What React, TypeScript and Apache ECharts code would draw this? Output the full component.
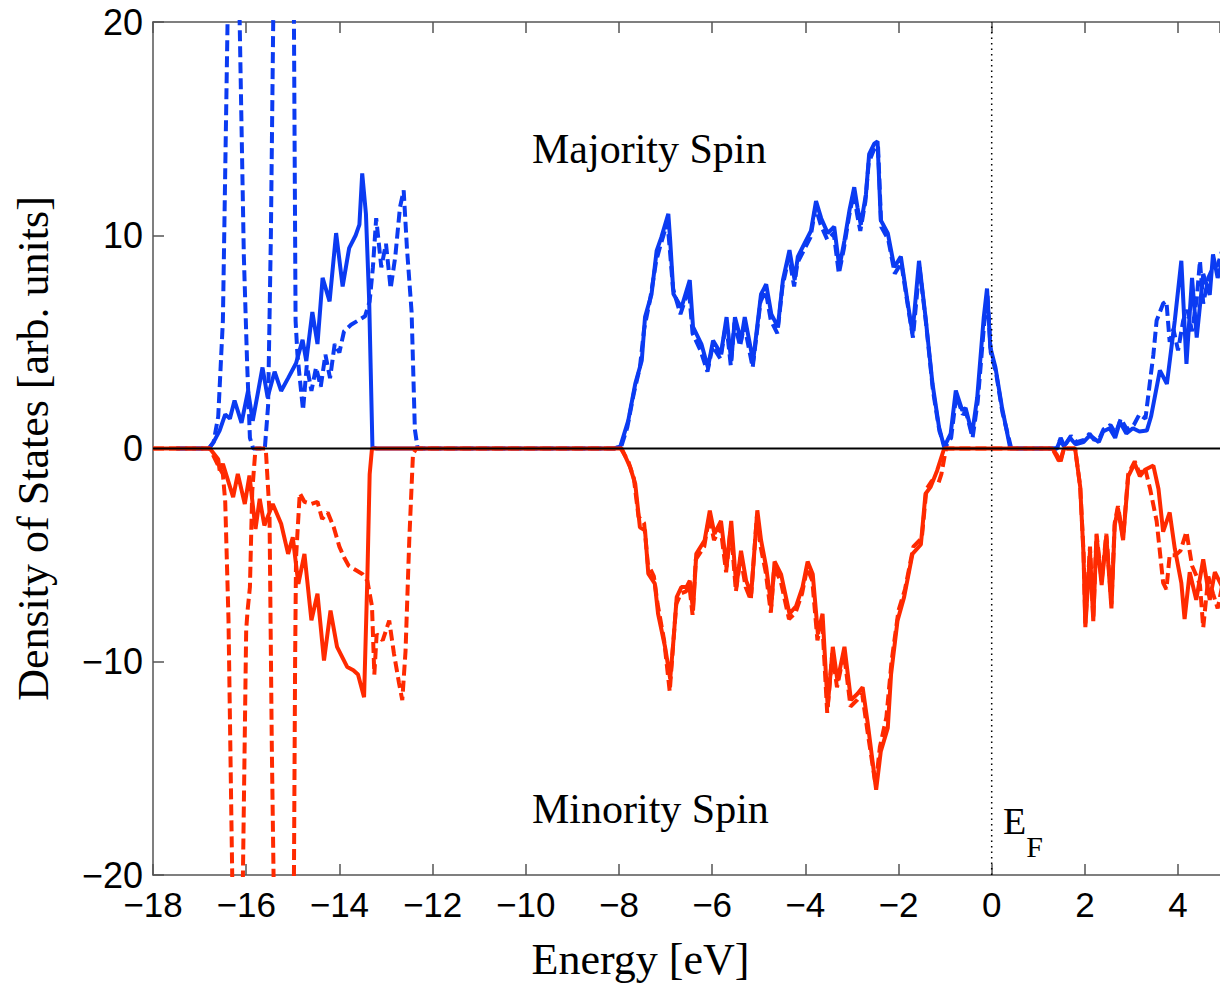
import React, { useEffect, useRef } from "react";
import * as echarts from "echarts";

const xTicks = { min: -18, max: 4.9, interval: 2 };
const yTicks = { min: -20, max: 20, interval: 10 };

const majoritySolid: [number, number][] = [
  [-17.5, 0], [-16.8, 0], [-16.7, 0.3], [-16.57, 0.84], [-16.45, 1.6], [-16.35, 1.4], [-16.25, 2.25], [-16.1, 1.2],
  [-15.96, 2.7], [-15.86, 1.3], [-15.75, 2.6], [-15.65, 3.8], [-15.54, 2.4], [-15.39, 3.6], [-15.25, 2.7], [-15.1, 3.3],
  [-14.93, 4.0], [-14.79, 5.1], [-14.71, 4.1], [-14.58, 6.4], [-14.47, 4.9], [-14.36, 8.0], [-14.21, 6.9], [-14.07, 10.1],
  [-13.93, 7.6], [-13.79, 9.4], [-13.65, 10.0], [-13.57, 10.5], [-13.51, 12.9], [-13.43, 11.0], [-13.36, 6.9], [-13.29, 0.05],
  [-13.2, 0], [-8.1, 0], [-7.97, 0.1], [-7.8, 1.31], [-7.65, 3.03], [-7.51, 4.13], [-7.44, 6.16], [-7.3, 7.24], [-7.19, 9.28],
  [-7.09, 9.9], [-6.94, 11.0], [-6.9, 9.75], [-6.83, 7.24], [-6.66, 6.6], [-6.48, 7.9], [-6.41, 5.7], [-6.23, 4.9], [-6.09, 3.8],
  [-5.98, 5.06], [-5.81, 4.44], [-5.69, 6.16], [-5.59, 4.1], [-5.51, 6.16], [-5.38, 5.06], [-5.3, 6.16], [-5.12, 4.1],
  [-4.95, 7.24], [-4.84, 7.7], [-4.73, 6.3], [-4.59, 5.7], [-4.48, 7.9], [-4.34, 9.3], [-4.23, 7.9], [-4.16, 9.0], [-4.02, 9.6],
  [-3.88, 10.2], [-3.77, 11.6], [-3.66, 10.8], [-3.52, 10.1], [-3.38, 10.4], [-3.27, 8.5], [-3.16, 9.75], [-3.05, 11.2],
  [-2.95, 12.25], [-2.88, 11.3], [-2.81, 10.5], [-2.7, 11.9], [-2.63, 13.8], [-2.52, 14.3], [-2.45, 14.4], [-2.38, 10.7],
  [-2.23, 10.1], [-2.09, 8.5], [-1.95, 9.0], [-1.81, 6.94], [-1.7, 5.4], [-1.56, 8.8], [-1.42, 6.16], [-1.27, 3.03],
  [-1.13, 1.0], [-1.02, 0.06], [-0.88, 0.7], [-0.77, 2.72], [-0.63, 1.78], [-0.56, 1.9], [-0.42, 0.69], [-0.31, 2.4],
  [-0.17, 6.16], [-0.1, 7.5], [-0.03, 4.75], [0.08, 3.81], [0.22, 1.94], [0.4, 0], [1.4, 0], [1.47, 0.4], [1.55, 0.1],
  [1.68, 0.5], [1.8, 0.2], [1.97, 0.3], [2.1, 0.6], [2.18, 0.5], [2.3, 0.3], [2.39, 0.8], [2.53, 0.95], [2.65, 0.5],
  [2.75, 1.25], [2.89, 0.7], [3.03, 0.95], [3.17, 0.8], [3.33, 0.84], [3.42, 1.5], [3.61, 3.66], [3.76, 3.03], [3.93, 6.0],
  [4.07, 8.8], [4.18, 3.97], [4.3, 8.0], [4.4, 5.2], [4.54, 8.19], [4.68, 7.2], [4.75, 9.1], [4.85, 8.0], [4.95, 8.8],
];

const majorityDashed: [number, number][] = [
  [-17.5, 0], [-16.8, 0], [-16.7, 0.3], [-16.6, 1.5], [-16.5, 6], [-16.4, 20], [-16.27, 36], [-16.14, 20], [-16.05, 9],
  [-15.98, 4], [-15.92, 0.5], [-15.85, 0], [-15.6, 0], [-15.53, 2], [-15.47, 10], [-15.41, 22], [-15.2, 38], [-14.98, 22],
  [-14.94, 6], [-14.9, 4.4], [-14.85, 3.3], [-14.78, 1.8], [-14.7, 3.9], [-14.6, 2.7], [-14.5, 3.8], [-14.4, 2.9],
  [-14.3, 4.4], [-14.2, 3.3], [-14.1, 4.9], [-14.0, 4.5], [-13.9, 5.5], [-13.75, 5.8], [-13.6, 6.0], [-13.45, 6.2],
  [-13.35, 6.9], [-13.28, 8.5], [-13.21, 10.8], [-13.1, 8.5], [-13.0, 9.6], [-12.9, 7.5], [-12.8, 9.0], [-12.7, 11.3],
  [-12.62, 12.1], [-12.55, 9.4], [-12.45, 6.4], [-12.38, 0.9], [-12.32, 0], [-8.1, 0], [-7.95, 0.1], [-7.82, 1.0],
  [-7.68, 2.6], [-7.55, 3.8], [-7.46, 5.6], [-7.33, 7.0], [-7.2, 8.8], [-7.1, 9.6], [-6.96, 10.6], [-6.91, 9.4],
  [-6.84, 7.5], [-6.68, 6.3], [-6.5, 7.5], [-6.42, 5.4], [-6.25, 4.6], [-6.1, 3.6], [-5.99, 4.8], [-5.82, 4.2],
  [-5.7, 5.9], [-5.6, 3.9], [-5.52, 5.9], [-5.4, 4.8], [-5.31, 5.8], [-5.13, 3.8], [-4.96, 6.9], [-4.85, 7.4],
  [-4.74, 6.0], [-4.6, 5.4], [-4.49, 7.6], [-4.35, 9.0], [-4.24, 7.6], [-4.17, 8.7], [-4.03, 9.3], [-3.89, 9.9],
  [-3.78, 11.3], [-3.67, 10.5], [-3.53, 9.8], [-3.39, 10.1], [-3.28, 8.2], [-3.17, 9.4], [-3.06, 10.9], [-2.96, 12.0],
  [-2.89, 11.0], [-2.82, 10.2], [-2.71, 11.6], [-2.64, 13.4], [-2.53, 14.0], [-2.44, 14.2], [-2.37, 10.4], [-2.22, 9.8],
  [-2.08, 8.2], [-1.94, 8.7], [-1.8, 6.7], [-1.69, 5.2], [-1.55, 8.5], [-1.41, 5.9], [-1.26, 2.7], [-1.12, 0.8],
  [-1.0, 0.05], [-0.87, 0.5], [-0.76, 2.5], [-0.62, 1.6], [-0.55, 1.7], [-0.41, 0.5], [-0.3, 2.2], [-0.16, 5.9],
  [-0.09, 7.2], [-0.02, 4.5], [0.09, 3.6], [0.23, 1.7], [0.42, 0], [1.4, 0], [1.48, 0.5], [1.56, 0.1], [1.7, 0.6],
  [1.82, 0.3], [1.98, 0.4], [2.1, 0.7], [2.2, 0.4], [2.32, 0.5], [2.4, 0.9], [2.55, 1.1], [2.66, 0.7], [2.77, 1.4],
  [2.9, 0.9], [3.05, 1.1], [3.17, 1.6], [3.3, 1.4], [3.4, 3.19], [3.47, 4.4], [3.54, 6.0], [3.68, 6.8], [3.75, 6.9],
  [3.82, 5.0], [3.9, 5.6], [4.0, 4.6], [4.11, 6.0], [4.2, 6.5], [4.3, 5.5], [4.4, 7.0], [4.47, 8.8], [4.54, 6.8],
  [4.65, 8.0], [4.75, 8.5], [4.85, 8.6], [4.95, 9.3],
];

const minoritySolid: [number, number][] = [
  [-18, 0], [-16.78, 0], [-16.6, -0.5], [-16.57, -1.03], [-16.5, -0.72], [-16.28, -2.28], [-16.18, -1.19], [-16.03, -2.6],
  [-15.93, -1.27], [-15.8, -3.77], [-15.71, -2.36], [-15.61, -3.61], [-15.43, -2.6], [-15.25, -3.53], [-15.1, -4.94],
  [-15.0, -4.16], [-14.88, -6.35], [-14.75, -4.94], [-14.6, -8.06], [-14.47, -6.81], [-14.33, -9.94], [-14.19, -7.6],
  [-14.05, -9.3], [-13.83, -10.25], [-13.7, -10.4], [-13.6, -10.6], [-13.47, -11.66], [-13.4, -6.1], [-13.35, -1.2],
  [-13.3, 0], [-7.94, 0], [-7.76, -0.87], [-7.65, -1.66], [-7.55, -3.69], [-7.44, -3.84], [-7.37, -5.87], [-7.23, -6.34],
  [-7.16, -7.75], [-7.01, -9.31], [-6.9, -10.8], [-6.83, -9.0], [-6.76, -6.97], [-6.66, -6.5], [-6.55, -6.5], [-6.48, -6.2],
  [-6.41, -7.6], [-6.34, -4.94], [-6.16, -4.3], [-6.05, -2.91], [-5.95, -4.0], [-5.81, -3.4], [-5.69, -5.56], [-5.59, -3.4],
  [-5.48, -6.5], [-5.38, -4.8], [-5.27, -6.2], [-5.16, -6.8], [-5.03, -2.9], [-4.95, -4.3], [-4.84, -5.56], [-4.73, -7.4],
  [-4.66, -5.3], [-4.52, -5.9], [-4.34, -7.75], [-4.2, -7.4], [-4.06, -6.5], [-3.95, -5.3], [-3.84, -5.9], [-3.73, -8.7],
  [-3.63, -7.75], [-3.52, -12.1], [-3.41, -9.3], [-3.31, -10.9], [-3.16, -9.3], [-3.02, -11.8], [-2.88, -11.5],
  [-2.77, -11.2], [-2.66, -12.9], [-2.48, -16.0], [-2.38, -14.2], [-2.23, -13.1], [-2.16, -10.6], [-2.02, -8.06],
  [-1.88, -6.97], [-1.7, -4.94], [-1.52, -4.5], [-1.42, -2.12], [-1.31, -1.8], [-1.17, -1.03], [-1.02, 0], [1.3, 0],
  [1.4, -0.3], [1.47, -0.6], [1.55, 0], [1.79, 0], [1.9, -1.81], [1.97, -4.94], [2.01, -8.38], [2.11, -4.8], [2.18, -8.1],
  [2.25, -4.1], [2.36, -6.4], [2.46, -4.1], [2.57, -7.5], [2.64, -3.6], [2.71, -2.8], [2.82, -4.3], [2.93, -1.3],
  [3.07, -0.7], [3.18, -1.3], [3.29, -1.0], [3.47, -0.8], [3.58, -1.9], [3.68, -3.9], [3.82, -3.0], [3.93, -4.7],
  [4.07, -6.3], [4.14, -8.0], [4.25, -5.8], [4.39, -7.1], [4.54, -5.2], [4.68, -7.1], [4.79, -5.8], [4.95, -6.5],
];

const minorityDashed: [number, number][] = [
  [-18, 0], [-16.78, 0], [-16.6, -0.8], [-16.5, -1.2], [-16.45, -2.5], [-16.38, -8], [-16.3, -20], [-16.18, -32],
  [-16.07, -20], [-16.0, -8.5], [-15.97, -7.6], [-15.92, -6.5], [-15.87, -2], [-15.8, 0], [-15.58, 0], [-15.5, -3],
  [-15.45, -14], [-15.4, -22], [-15.2, -36], [-14.98, -22], [-14.95, -10], [-14.93, -5.1], [-14.85, -2.1], [-14.75, -2.5],
  [-14.6, -2.6], [-14.47, -2.5], [-14.37, -3.3], [-14.25, -3.0], [-14.12, -3.7], [-14.0, -4.6], [-13.9, -5.1],
  [-13.8, -5.5], [-13.65, -5.7], [-13.5, -5.9], [-13.4, -6.2], [-13.3, -7.4], [-13.25, -10.6], [-13.2, -8.7],
  [-13.07, -9.0], [-12.93, -8.07], [-12.83, -9.6], [-12.72, -11.0], [-12.65, -11.8], [-12.58, -9.5], [-12.5, -4.3],
  [-12.42, -0.25], [-12.35, 0], [-7.96, 0], [-7.8, -0.6], [-7.68, -1.4], [-7.58, -3.2], [-7.46, -3.5], [-7.38, -5.4],
  [-7.25, -6.0], [-7.17, -7.3], [-7.03, -9.0], [-6.91, -11.4], [-6.84, -9.3], [-6.77, -7.3], [-6.67, -6.8], [-6.56, -6.7],
  [-6.49, -6.4], [-6.42, -7.8], [-6.35, -5.2], [-6.17, -4.6], [-6.06, -3.2], [-5.96, -4.3], [-5.82, -3.7], [-5.7, -5.8],
  [-5.6, -3.7], [-5.49, -6.7], [-5.39, -5.1], [-5.28, -6.5], [-5.17, -7.1], [-5.04, -3.2], [-4.96, -4.6], [-4.85, -5.8],
  [-4.74, -7.7], [-4.67, -5.6], [-4.53, -6.2], [-4.35, -8.0], [-4.21, -7.7], [-4.07, -6.8], [-3.96, -5.6], [-3.85, -6.2],
  [-3.74, -9.0], [-3.64, -8.0], [-3.53, -12.4], [-3.42, -9.6], [-3.32, -11.2], [-3.17, -9.6], [-3.03, -12.1],
  [-2.89, -11.8], [-2.78, -11.5], [-2.67, -13.2], [-2.49, -15.8], [-2.4, -14.0], [-2.26, -12.6], [-2.15, -10.0],
  [-2.0, -7.6], [-1.86, -6.6], [-1.68, -4.6], [-1.5, -4.2], [-1.4, -1.9], [-1.28, -1.5], [-1.14, -1.6], [-1.08, -1.2],
  [-0.98, 0], [1.3, 0], [1.4, -0.4], [1.47, -0.7], [1.55, 0], [1.79, 0], [1.9, -1.8], [1.97, -4.8], [2.01, -8.2],
  [2.11, -4.6], [2.18, -8.0], [2.25, -4.0], [2.36, -6.2], [2.46, -4.0], [2.57, -7.3], [2.64, -3.5], [2.71, -2.7],
  [2.82, -4.2], [2.93, -1.2], [3.07, -0.6], [3.18, -1.2], [3.29, -0.9], [3.4, -1.9], [3.54, -3.4], [3.68, -6.3],
  [3.75, -6.6], [3.82, -5.0], [3.95, -5.0], [4.05, -4.8], [4.18, -3.9], [4.3, -5.5], [4.4, -6.0], [4.47, -6.4],
  [4.54, -8.4], [4.65, -6.0], [4.75, -6.8], [4.85, -7.5], [4.95, -6.4],
];

const zeroLine: [number, number][] = [[-18, 0], [4.9, 0]];
const fermiLine: [number, number][] = [[0, -20], [0, 20]];

const BLUE = "#0b3bf2";
const RED = "#ff2a00";
const minus = (v: number) => String(v).replace("-", "\u2212");

export default function App() {
  const ref = useRef<HTMLDivElement>(null);
  useEffect(() => {
    if (!ref.current) return;
    const chart = echarts.init(ref.current, undefined, { renderer: "svg" });
    const axisLine = { show: true, onZero: false, lineStyle: { color: "#555", width: 1.5 } };
    const tickStyle = { show: true, inside: true, length: 11, lineStyle: { color: "#555", width: 1.5 } };
    chart.setOption({
      animation: false,
      backgroundColor: "#fff",
      grid: { left: 153, top: 22, bottom: 111, right: 0, containLabel: false },
      xAxis: [
        {
          type: "value", ...xTicks, position: "bottom",
          axisLine, axisTick: tickStyle, splitLine: { show: false },
          axisLabel: { formatter: minus, fontFamily: "Liberation Sans", fontSize: 35, color: "#000", margin: 12, showMaxLabel: false },
          name: "Energy [eV]", nameLocation: "middle", nameGap: 62,
          nameTextStyle: { fontFamily: "Liberation Serif", fontSize: 44, color: "#000", padding: [0, 92, 0, 0] },
        },
        {
          type: "value", ...xTicks, position: "top",
          axisLine, axisTick: tickStyle, splitLine: { show: false }, axisLabel: { show: false },
        },
      ],
      yAxis: {
        type: "value", ...yTicks,
        axisLine, axisTick: tickStyle, splitLine: { show: false },
        axisLabel: { formatter: minus, fontFamily: "Liberation Sans", fontSize: 36, color: "#000", margin: 10 },
        name: "Density of States [arb. units]", nameLocation: "middle", nameGap: 98,
        nameTextStyle: { fontFamily: "Liberation Serif", fontSize: 44, color: "#000" },
      },
      graphic: [
        { type: "text", left: 532, top: 128, style: { text: "Majority Spin", font: "42px 'Liberation Serif'", fill: "#000" } },
        { type: "text", left: 532, top: 788, style: { text: "Minority Spin", font: "42px 'Liberation Serif'", fill: "#000" } },
        {
          type: "text", left: 1003, top: 802,
          style: {
            text: "{e|E}{f|F}",
            rich: {
              e: { fontFamily: "Liberation Serif", fontSize: 38, fill: "#000", padding: [0, 0, 20, 0] },
              f: { fontFamily: "Liberation Serif", fontSize: 30, fill: "#000", padding: [30, 0, 0, 0] },
            },
          },
        },
      ],
      series: [
        { name: "Majority (solid)", type: "line", data: majoritySolid, showSymbol: false, lineStyle: { color: BLUE, width: 4 }, z: 2 },
        { name: "Majority (dashed)", type: "line", data: majorityDashed, showSymbol: false, lineStyle: { color: BLUE, width: 4, type: [11, 5] }, z: 2 },
        { name: "Minority (dashed)", type: "line", data: minorityDashed, showSymbol: false, lineStyle: { color: RED, width: 4, type: [11, 5] }, z: 3 },
        { name: "Minority (solid)", type: "line", data: minoritySolid, showSymbol: false, lineStyle: { color: RED, width: 4 }, z: 3 },
        { name: "zero", type: "line", data: zeroLine, showSymbol: false, lineStyle: { color: "#000", width: 2 }, z: 5 },
        { name: "E_F", type: "line", data: fermiLine, showSymbol: false, lineStyle: { color: "#000", width: 1.5, type: [1.5, 4] }, z: 5 },
      ],
    });
    return () => chart.dispose();
  }, []);
  return <div ref={ref} style={{ position: "absolute", left: 0, top: 0, width: 1220, height: 986 }} />;
}
